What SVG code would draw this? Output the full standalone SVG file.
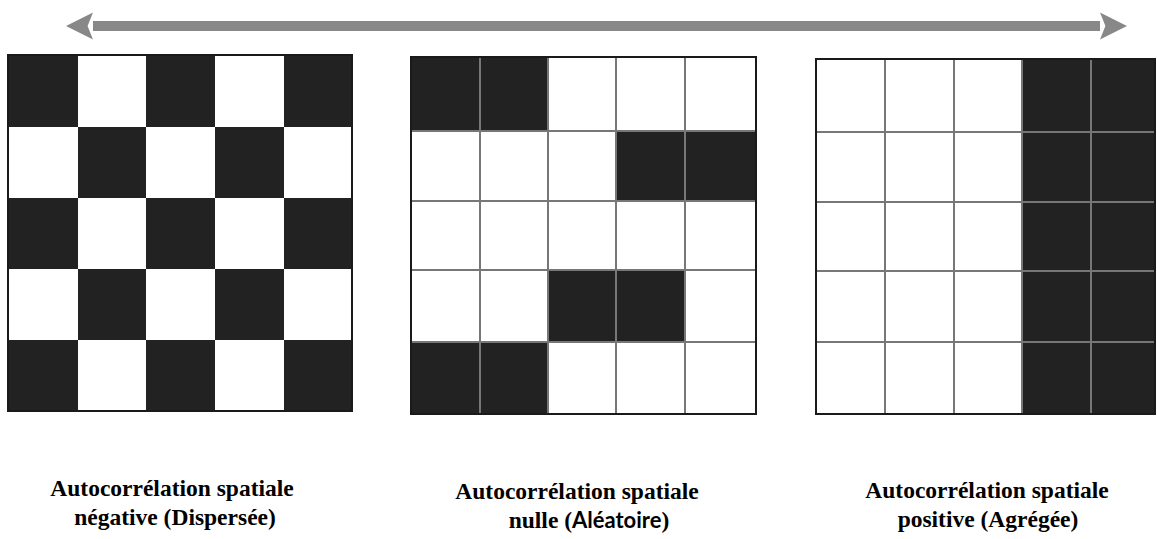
<svg xmlns="http://www.w3.org/2000/svg" width="1157" height="539" viewBox="0 0 1157 539">
<style>
.b{fill:#222}
.w{fill:#fff}
.gl{stroke:#777;stroke-width:2;fill:none}
.fr{stroke:#1a1a1a;stroke-width:2;fill:none}
.lbl{font-family:"Liberation Serif",serif;font-weight:bold;font-size:23.5px;fill:#000;text-anchor:middle}
.sans{font-family:Lato,"Liberation Sans",sans-serif;font-size:22px}
</style>
<defs>
<marker id="ah" viewBox="0 0 10 10" refX="0" refY="5" markerWidth="2.7" markerHeight="2.8" markerUnits="strokeWidth" orient="auto-start-reverse">
<path d="M0,0 L10,5 L0,10 L2,5 Z" fill="#888"/>
</marker>
</defs>
<g id="connectors">
<line x1="93" y1="26" x2="1100" y2="26" stroke="#888" stroke-width="10" marker-start="url(#ah)" marker-end="url(#ah)"/>
</g>
<g id="grid-negative">
<rect x="8" y="55" width="344" height="356" class="w"/>
<g class="b">
<rect x="8" y="55" width="70" height="72"/><rect x="146" y="55" width="69" height="72"/><rect x="284" y="55" width="68" height="72"/>
<rect x="78" y="127" width="68" height="71"/><rect x="215" y="127" width="69" height="71"/>
<rect x="8" y="198" width="70" height="71"/><rect x="146" y="198" width="69" height="71"/><rect x="284" y="198" width="68" height="71"/>
<rect x="78" y="269" width="68" height="71"/><rect x="215" y="269" width="69" height="71"/>
<rect x="8" y="340" width="70" height="71"/><rect x="146" y="340" width="69" height="71"/><rect x="284" y="340" width="68" height="71"/>
</g>
<rect x="8" y="55" width="344" height="356" class="fr"/>
</g>
<g id="grid-null">
<rect x="411" y="57" width="345" height="357" class="w"/>
<g class="b">
<rect x="411" y="57" width="137" height="74"/>
<rect x="616" y="131" width="140" height="70"/>
<rect x="548" y="270" width="137" height="72"/>
<rect x="411" y="342" width="137" height="72"/>
</g>
<path class="gl" d="M480 57V414M548 57V414M616 57V414M685 57V414M411 131H756M411 201H756M411 270H756M411 342H756"/>
<rect x="411" y="57" width="345" height="357" class="fr"/>
</g>
<g id="grid-positive">
<rect x="816" y="59" width="339" height="355" class="w"/>
<rect x="1022" y="59" width="133" height="355" class="b"/>
<path class="gl" d="M885 59V414M954 59V414M1022 59V414M1091 59V414M816 132H1155M816 202H1155M816 271H1155M816 342H1155"/>
<rect x="816" y="59" width="339" height="355" class="fr"/>
</g>
<g id="label-negative">
<text class="lbl" x="172" y="496">Autocorrélation spatiale</text>
<text class="lbl" x="175" y="525">négative (Dispersée)</text>
</g>
<g id="label-null">
<text class="lbl" x="577" y="499">Autocorrélation spatiale</text>
<text class="lbl" x="589" y="528">nulle (<tspan class="sans">Aléatoire</tspan>)</text>
</g>
<g id="label-positive">
<text class="lbl" x="987" y="498">Autocorrélation spatiale</text>
<text class="lbl" x="988" y="527">positive (Agrégée)</text>
</g>
</svg>
